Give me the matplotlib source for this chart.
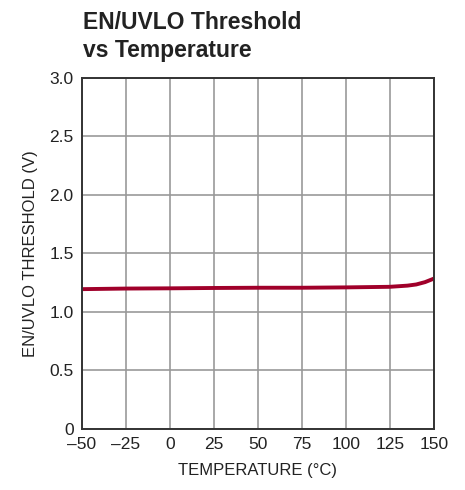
import matplotlib
matplotlib.use('Agg')
import matplotlib.pyplot as plt
from matplotlib.ticker import FuncFormatter

# data
temp = [-50, -25, 0, 25, 50, 75, 100, 125, 135, 140, 145, 150]
threshold = [1.195, 1.2, 1.202, 1.205, 1.207, 1.207, 1.21, 1.215, 1.225, 1.235, 1.255, 1.285]

xticks = [-50, -25, 0, 25, 50, 75, 100, 125, 150]
yticks = [0, 0.5, 1.0, 1.5, 2.0, 2.5, 3.0]

plt.rcParams['font.family'] = ['Liberation Sans Narrow', 'Liberation Sans', 'DejaVu Sans']

fig = plt.figure(figsize=(4.65, 4.9), dpi=100)
ax = fig.add_axes([0.176, 0.1245, 0.757, 0.7165])

ax.plot(temp, threshold, color='#a0002a', lw=2.8, solid_capstyle='butt')

ax.set_xlim(-50, 150)
ax.set_ylim(0, 3.0)
ax.set_xticks(xticks)
ax.set_yticks(yticks)
ax.xaxis.set_major_formatter(FuncFormatter(lambda v, p: f"{int(v)}".replace('-', '\u2013')))
ax.yaxis.set_major_formatter(FuncFormatter(lambda v, p: '0' if v == 0 else f"{v:.1f}"))
ax.tick_params(length=0, labelsize=12.5, pad=6, colors='#222222')
ax.grid(True, color='#999999', lw=1.2)
ax.set_axisbelow(True)
for s in ax.spines.values():
    s.set_color('#333333')
    s.set_linewidth(1.4)

ax.set_xlabel('TEMPERATURE (°C)', fontsize=12, color='#222222', labelpad=8)
ax.set_ylabel('EN/UVLO THRESHOLD (V)', fontsize=12, color='#222222', labelpad=8)

fig.text(0.178, 0.978, 'EN/UVLO Threshold\nvs Temperature', fontsize=16.5, fontweight='bold',
         va='top', ha='left', color='#222222', linespacing=1.3)

fig.savefig('out.png', dpi=100)
